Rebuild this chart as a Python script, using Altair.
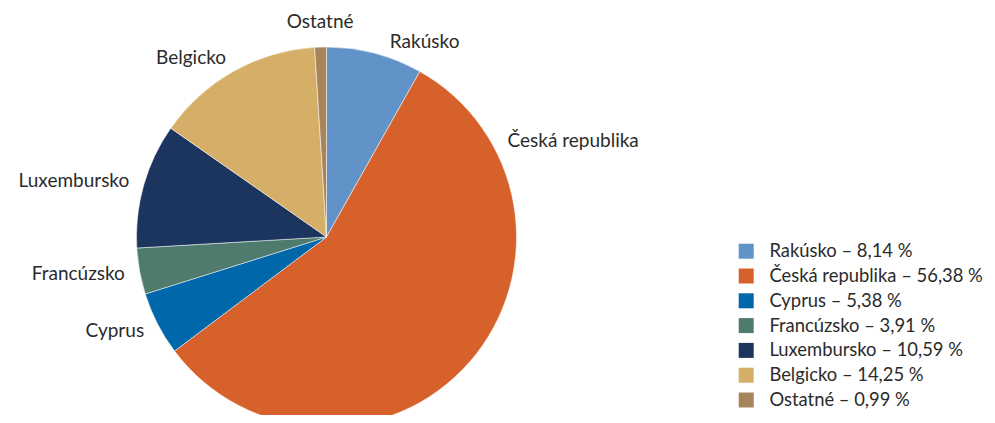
import math
import altair as alt
import pandas as pd

countries = ["Rakúsko", "Česká republika", "Cyprus", "Francúzsko", "Luxembursko", "Belgicko", "Ostatné"]
shares = [8.14, 56.38, 5.38, 3.91, 10.59, 14.25, 0.99]
colors = ["#6193C8", "#D6612A", "#0067AB", "#4F7B6F", "#1C355E", "#D5AF67", "#A8845A"]

# layout tweaks for a few labels (degrees clockwise from top)
label_angle_override = {"Rakúsko": 18.0, "Česká republika": 62.0}

W, H = 979, 407
CX, CY, R = 318.5, 229, 190
LABEL_R = 205
FONT = "Lato"
FS = 19
LEG_FS = 18.4
TEXT_COLOR = "#2b2b2b"

total = sum(shares)
rows = []
cum = 0.0
for name, s in zip(countries, shares):
    start, end = cum, cum + s
    cum = end
    mid = (start + end) / 2
    ang = label_angle_override.get(name, mid / total * 360)
    lab = ang / 360 * total
    if ang < 6 or ang > 354:
        side = "top"
    elif ang < 180:
        side = "right"
    else:
        side = "left"
    pct = f"{s:.2f}".replace(".", ",")
    rows.append({"name": name, "start": start, "end": end, "lab": lab,
                 "side": side, "legend": f"{name} – {pct} %"})
df = pd.DataFrame(rows)
legend_order = list(df["legend"])

theta_scale = alt.Scale(domain=[0, total], range=[0, 2 * math.pi])

base = alt.Chart(df)

pie = base.mark_arc(outerRadius=R, x=CX, y=CY, stroke="white", strokeWidth=0.5).encode(
    theta=alt.Theta("start:Q", scale=theta_scale, stack=None),
    theta2="end:Q",
    color=alt.Color(
        "legend:N",
        scale=alt.Scale(domain=legend_order, range=colors),
        sort=legend_order,
        legend=alt.Legend(
            title=None, orient="none", legendX=729, legendY=234,
            symbolType="square", symbolSize=225, symbolStrokeWidth=0,
            labelFont=FONT, labelFontSize=LEG_FS, labelColor=TEXT_COLOR,
            rowPadding=5.8, labelOffset=14, labelLimit=400,
        ),
    ),
)

def label_layer(side, align, baseline):
    return base.transform_filter(alt.datum.side == side).mark_text(
        x=CX, y=CY, radius=LABEL_R, align=align, baseline=baseline,
        font=FONT, fontSize=FS, color=TEXT_COLOR,
    ).encode(
        theta=alt.Theta("lab:Q", scale=theta_scale, stack=None),
        text="name:N",
    )

labels = (label_layer("right", "left", "middle")
          + label_layer("left", "right", "middle")
          + label_layer("top", "center", "bottom"))

chart = alt.layer(pie, labels).properties(
    width=W, height=H, padding=0, autosize=alt.AutoSizeParams(type="none"),
).configure_view(stroke=None)

chart.save("out.html", embed_options={"renderer": "svg", "actions": False})
